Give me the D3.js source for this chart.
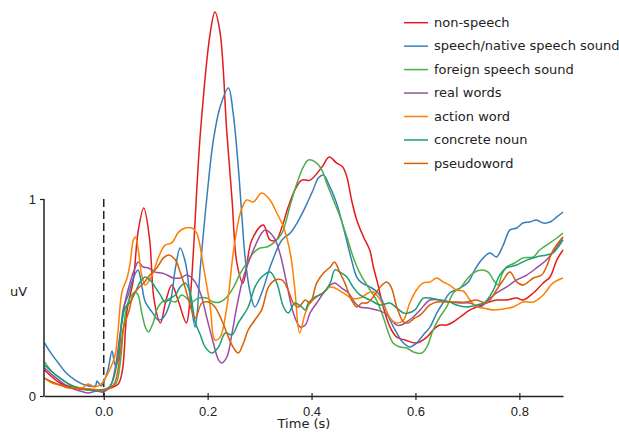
<!DOCTYPE html>
<html>
<head>
<meta charset="utf-8">
<script src="https://cdn.jsdelivr.net/npm/d3@7"></script>
<style>
  html, body { margin: 0; padding: 0; background: #fff; }
  svg { display: block; font-family: "DejaVu Sans", Verdana, sans-serif; }
  .axis path, .axis line { stroke: #222; }
  .axis text { fill: #222; font-size: 13px; }
</style>
</head>
<body>
<svg id="chart" width="619" height="432"></svg>
<script>
// [time (s), amplitude (uV)]
const nonSpeech = [[-0.114,0.132],[-0.084,0.066],[-0.055,0.041],[-0.026,0.030],[-0.007,0.025],[0.013,0.041],[0.028,0.061],[0.036,0.132],[0.045,0.437],[0.057,0.589],[0.066,0.832],[0.077,0.954],[0.088,0.802],[0.097,0.487],[0.109,0.371],[0.120,0.487],[0.131,0.563],[0.143,0.487],[0.159,0.371],[0.166,0.487],[0.186,1.335],[0.205,1.843],[0.214,1.949],[0.224,1.843],[0.237,1.335],[0.247,0.995],[0.256,0.680],[0.268,0.574],[0.285,0.792],[0.307,0.868],[0.320,0.792],[0.332,0.792],[0.343,0.858],[0.355,0.959],[0.368,1.046],[0.381,1.096],[0.397,1.096],[0.420,1.162],[0.434,1.213],[0.448,1.183],[0.460,1.162],[0.468,1.112],[0.477,0.995],[0.487,0.893],[0.500,0.807],[0.512,0.741],[0.519,0.655],[0.527,0.574],[0.538,0.452],[0.551,0.350],[0.564,0.299],[0.580,0.284],[0.602,0.269],[0.622,0.299],[0.634,0.335],[0.647,0.360],[0.660,0.360],[0.673,0.376],[0.686,0.401],[0.705,0.437],[0.718,0.452],[0.737,0.472],[0.756,0.487],[0.775,0.487],[0.795,0.497],[0.807,0.487],[0.827,0.523],[0.846,0.574],[0.859,0.604],[0.872,0.690],[0.884,0.741]];
const nativeSpeech = [[-0.114,0.269],[-0.103,0.223],[-0.089,0.173],[-0.074,0.122],[-0.055,0.081],[-0.036,0.056],[-0.016,0.051],[-0.013,0.076],[-0.005,0.051],[0.007,0.122],[0.016,0.228],[0.022,0.157],[0.028,0.183],[0.032,0.310],[0.038,0.447],[0.047,0.513],[0.057,0.599],[0.066,0.640],[0.073,0.563],[0.080,0.477],[0.093,0.426],[0.105,0.386],[0.114,0.396],[0.128,0.477],[0.138,0.650],[0.147,0.751],[0.157,0.680],[0.166,0.513],[0.176,0.350],[0.186,0.655],[0.198,0.995],[0.211,1.299],[0.224,1.467],[0.240,1.563],[0.249,1.437],[0.259,1.162],[0.266,0.909],[0.272,0.706],[0.282,0.523],[0.291,0.452],[0.304,0.523],[0.323,0.675],[0.343,0.792],[0.359,0.827],[0.372,0.878],[0.388,0.959],[0.403,1.046],[0.413,1.107],[0.423,1.122],[0.432,1.081],[0.448,0.980],[0.464,0.827],[0.477,0.690],[0.487,0.604],[0.497,0.574],[0.513,0.553],[0.528,0.523],[0.538,0.472],[0.551,0.386],[0.564,0.320],[0.577,0.269],[0.589,0.249],[0.602,0.269],[0.615,0.310],[0.628,0.350],[0.641,0.421],[0.653,0.472],[0.666,0.523],[0.686,0.548],[0.702,0.579],[0.714,0.640],[0.727,0.690],[0.743,0.726],[0.756,0.706],[0.769,0.766],[0.782,0.843],[0.795,0.853],[0.807,0.878],[0.820,0.883],[0.833,0.893],[0.846,0.878],[0.859,0.883],[0.872,0.909],[0.884,0.934]];
const foreignSpeech = [[-0.114,0.173],[-0.099,0.122],[-0.084,0.091],[-0.064,0.056],[-0.045,0.041],[-0.026,0.030],[-0.007,0.030],[0.013,0.046],[0.024,0.066],[0.032,0.173],[0.038,0.345],[0.045,0.462],[0.054,0.513],[0.061,0.528],[0.066,0.513],[0.073,0.426],[0.080,0.350],[0.086,0.325],[0.095,0.371],[0.102,0.437],[0.112,0.477],[0.124,0.487],[0.138,0.477],[0.150,0.513],[0.170,0.477],[0.182,0.497],[0.198,0.497],[0.211,0.477],[0.224,0.477],[0.237,0.503],[0.250,0.553],[0.263,0.624],[0.275,0.675],[0.288,0.726],[0.301,0.751],[0.314,0.756],[0.327,0.777],[0.343,0.827],[0.359,0.970],[0.372,1.081],[0.384,1.162],[0.394,1.198],[0.407,1.188],[0.420,1.147],[0.429,1.081],[0.442,0.995],[0.455,0.909],[0.468,0.807],[0.480,0.706],[0.493,0.624],[0.509,0.553],[0.525,0.487],[0.538,0.401],[0.548,0.320],[0.557,0.269],[0.570,0.249],[0.583,0.244],[0.596,0.223],[0.612,0.218],[0.622,0.249],[0.634,0.335],[0.647,0.401],[0.660,0.452],[0.673,0.523],[0.686,0.548],[0.698,0.589],[0.711,0.624],[0.727,0.640],[0.740,0.629],[0.750,0.589],[0.759,0.563],[0.766,0.614],[0.775,0.655],[0.791,0.675],[0.807,0.701],[0.827,0.706],[0.839,0.741],[0.859,0.777],[0.872,0.802],[0.884,0.827]];
const realWords = [[-0.114,0.142],[-0.099,0.107],[-0.084,0.076],[-0.064,0.041],[-0.045,0.025],[-0.030,0.015],[-0.014,0.025],[-0.001,0.020],[0.013,0.051],[0.022,0.142],[0.032,0.325],[0.041,0.477],[0.051,0.579],[0.061,0.655],[0.066,0.680],[0.076,0.655],[0.086,0.650],[0.099,0.629],[0.112,0.624],[0.122,0.614],[0.134,0.599],[0.147,0.599],[0.160,0.614],[0.173,0.589],[0.186,0.523],[0.198,0.401],[0.211,0.269],[0.221,0.183],[0.227,0.168],[0.237,0.198],[0.247,0.320],[0.256,0.452],[0.269,0.604],[0.288,0.741],[0.304,0.827],[0.311,0.843],[0.327,0.807],[0.339,0.726],[0.352,0.574],[0.365,0.421],[0.378,0.350],[0.388,0.360],[0.397,0.421],[0.410,0.472],[0.423,0.523],[0.436,0.563],[0.445,0.574],[0.458,0.548],[0.471,0.523],[0.484,0.472],[0.493,0.452],[0.509,0.447],[0.525,0.437],[0.541,0.421],[0.554,0.386],[0.564,0.360],[0.573,0.360],[0.583,0.376],[0.596,0.401],[0.609,0.437],[0.628,0.487],[0.647,0.487],[0.666,0.477],[0.686,0.472],[0.705,0.472],[0.724,0.452],[0.740,0.487],[0.756,0.523],[0.775,0.553],[0.795,0.589],[0.814,0.614],[0.833,0.650],[0.852,0.690],[0.872,0.756],[0.884,0.807]];
const actionWord = [[-0.114,0.091],[-0.099,0.066],[-0.084,0.056],[-0.068,0.041],[-0.055,0.046],[-0.041,0.041],[-0.030,0.061],[-0.018,0.046],[-0.007,0.056],[0.003,0.091],[0.013,0.142],[0.022,0.208],[0.028,0.345],[0.035,0.528],[0.045,0.599],[0.051,0.680],[0.057,0.792],[0.061,0.807],[0.067,0.731],[0.073,0.614],[0.080,0.563],[0.093,0.614],[0.105,0.701],[0.118,0.766],[0.131,0.777],[0.144,0.832],[0.157,0.853],[0.170,0.853],[0.179,0.827],[0.192,0.655],[0.205,0.452],[0.214,0.284],[0.224,0.299],[0.237,0.452],[0.250,0.741],[0.263,0.929],[0.275,0.995],[0.288,0.985],[0.304,1.030],[0.320,0.995],[0.333,0.929],[0.346,0.858],[0.359,0.726],[0.368,0.538],[0.377,0.320],[0.388,0.421],[0.397,0.472],[0.410,0.503],[0.423,0.528],[0.436,0.553],[0.445,0.548],[0.461,0.523],[0.477,0.497],[0.493,0.497],[0.509,0.523],[0.519,0.528],[0.528,0.503],[0.541,0.447],[0.554,0.386],[0.564,0.371],[0.577,0.386],[0.589,0.472],[0.602,0.538],[0.615,0.574],[0.628,0.579],[0.641,0.599],[0.653,0.579],[0.666,0.563],[0.679,0.538],[0.692,0.533],[0.705,0.487],[0.718,0.452],[0.730,0.447],[0.750,0.437],[0.769,0.442],[0.788,0.452],[0.807,0.477],[0.827,0.477],[0.846,0.513],[0.865,0.574],[0.884,0.599]];
const concreteNoun = [[-0.114,0.157],[-0.099,0.122],[-0.084,0.091],[-0.064,0.056],[-0.045,0.036],[-0.026,0.030],[-0.007,0.025],[0.009,0.041],[0.018,0.081],[0.028,0.208],[0.035,0.376],[0.041,0.447],[0.051,0.477],[0.061,0.528],[0.070,0.579],[0.080,0.604],[0.089,0.589],[0.099,0.553],[0.109,0.513],[0.118,0.477],[0.128,0.497],[0.138,0.513],[0.147,0.553],[0.157,0.574],[0.166,0.528],[0.176,0.376],[0.186,0.310],[0.195,0.249],[0.208,0.218],[0.221,0.249],[0.234,0.320],[0.247,0.310],[0.259,0.371],[0.278,0.452],[0.291,0.553],[0.304,0.604],[0.320,0.629],[0.333,0.574],[0.346,0.452],[0.355,0.421],[0.368,0.472],[0.381,0.452],[0.388,0.437],[0.394,0.472],[0.407,0.503],[0.423,0.523],[0.436,0.574],[0.445,0.640],[0.455,0.629],[0.468,0.604],[0.480,0.553],[0.493,0.513],[0.513,0.487],[0.532,0.462],[0.551,0.472],[0.564,0.447],[0.577,0.421],[0.586,0.421],[0.599,0.437],[0.609,0.477],[0.615,0.497],[0.628,0.497],[0.647,0.487],[0.666,0.477],[0.679,0.462],[0.698,0.452],[0.718,0.462],[0.734,0.477],[0.750,0.538],[0.762,0.614],[0.775,0.650],[0.795,0.665],[0.814,0.690],[0.833,0.706],[0.852,0.716],[0.865,0.726],[0.884,0.792]];
const pseudoword = [[-0.114,0.091],[-0.099,0.071],[-0.084,0.056],[-0.064,0.041],[-0.045,0.036],[-0.026,0.036],[-0.007,0.030],[0.013,0.041],[0.022,0.071],[0.032,0.223],[0.038,0.345],[0.048,0.426],[0.057,0.513],[0.067,0.548],[0.077,0.574],[0.089,0.614],[0.102,0.650],[0.115,0.701],[0.125,0.716],[0.138,0.690],[0.147,0.629],[0.157,0.548],[0.166,0.462],[0.176,0.396],[0.189,0.472],[0.202,0.477],[0.214,0.452],[0.227,0.386],[0.240,0.299],[0.250,0.244],[0.259,0.218],[0.269,0.269],[0.278,0.335],[0.291,0.386],[0.304,0.437],[0.317,0.553],[0.330,0.589],[0.343,0.589],[0.355,0.538],[0.365,0.472],[0.375,0.452],[0.388,0.487],[0.397,0.472],[0.410,0.574],[0.423,0.624],[0.436,0.655],[0.444,0.680],[0.455,0.624],[0.464,0.574],[0.477,0.487],[0.487,0.452],[0.497,0.472],[0.506,0.472],[0.519,0.503],[0.532,0.553],[0.545,0.579],[0.554,0.548],[0.564,0.452],[0.577,0.376],[0.586,0.371],[0.599,0.396],[0.609,0.411],[0.628,0.462],[0.641,0.477],[0.660,0.477],[0.679,0.477],[0.698,0.477],[0.718,0.487],[0.737,0.472],[0.756,0.538],[0.769,0.589],[0.782,0.629],[0.795,0.579],[0.807,0.563],[0.827,0.599],[0.843,0.614],[0.852,0.655],[0.865,0.741],[0.884,0.807]];

const labels = ["non-speech", "speech/native speech sound", "foreign speech sound", "real words", "action word", "concrete noun", "pseudoword"];
const colors = ["#e41a1c", "#377eb8", "#4daf4a", "#984ea3", "#ff7f00", "#1b9e77", "#d95f02"];
const xTicks = [0, 0.2, 0.4, 0.6, 0.8];
const yTicks = [0, 1];

const allSeries = [nonSpeech, nativeSpeech, foreignSpeech, realWords, actionWord, concreteNoun, pseudoword];

const svg = d3.select("#chart");

const x = d3.scaleLinear().domain([-0.115, 0.884]).range([44, 563]);
const y = d3.scaleLinear().domain([0, 2]).range([396, 2]);

// stimulus onset
svg.append("line")
    .attr("x1", x(0)).attr("x2", x(0))
    .attr("y1", y(1)).attr("y2", y(0))
    .attr("stroke", "#222").attr("stroke-width", 1.5)
    .attr("stroke-dasharray", "8,4");

const line = d3.line()
    .x(d => x(d[0]))
    .y(d => y(d[1]))
    .curve(d3.curveCatmullRom.alpha(0.5));

svg.append("g").selectAll("path")
    .data(allSeries)
    .join("path")
    .attr("d", line)
    .attr("fill", "none")
    .attr("stroke", (d, i) => colors[i])
    .attr("stroke-width", 1.5);

// x axis
const gx = svg.append("g").attr("class", "axis")
    .attr("transform", `translate(0,${y(0)})`)
    .call(d3.axisBottom(x).tickValues(xTicks).tickFormat(d3.format(".1f")).tickSize(4).tickSizeOuter(0));
gx.select(".domain").attr("stroke-width", 1.5);
gx.selectAll(".tick line").attr("y1", -3).attr("stroke-width", 1.2);
gx.selectAll(".tick text").attr("y", 0).attr("dy", null).attr("dominant-baseline", "auto")
    .attr("transform", "translate(0,20)");

svg.append("text")
    .attr("x", 304).attr("y", 427.5)
    .attr("text-anchor", "middle")
    .attr("font-size", 13).attr("fill", "#222")
    .text("Time (s)");

// y axis, spine only spans 0..1
const gy = svg.append("g").attr("class", "axis")
    .attr("transform", `translate(${x.range()[0]},0)`)
    .call(d3.axisLeft(y).tickValues(yTicks).tickFormat(d3.format("d")).tickSize(4).tickSizeOuter(0));
gy.select(".domain").attr("d", `M0,${y(1)}V${y(0)}`).attr("stroke-width", 1.5);
gy.selectAll(".tick line").attr("stroke-width", 1.2);
gy.selectAll(".tick text").attr("x", -8);

svg.append("text")
    .attr("x", 10).attr("y", 296)
    .attr("font-size", 13).attr("fill", "#222")
    .text("uV");

// legend
const legend = svg.append("g").attr("transform", "translate(404,22.7)");
const rows = legend.selectAll("g")
    .data(labels)
    .join("g")
    .attr("transform", (d, i) => `translate(0,${i * 23.45})`);
rows.append("line")
    .attr("x1", 0).attr("x2", 24)
    .attr("stroke", (d, i) => colors[i])
    .attr("stroke-width", 1.5);
rows.append("text")
    .attr("x", 30).attr("dy", "0.33em")
    .attr("font-size", 13).attr("fill", "#222")
    .text(d => d);
</script>
</body>
</html>
